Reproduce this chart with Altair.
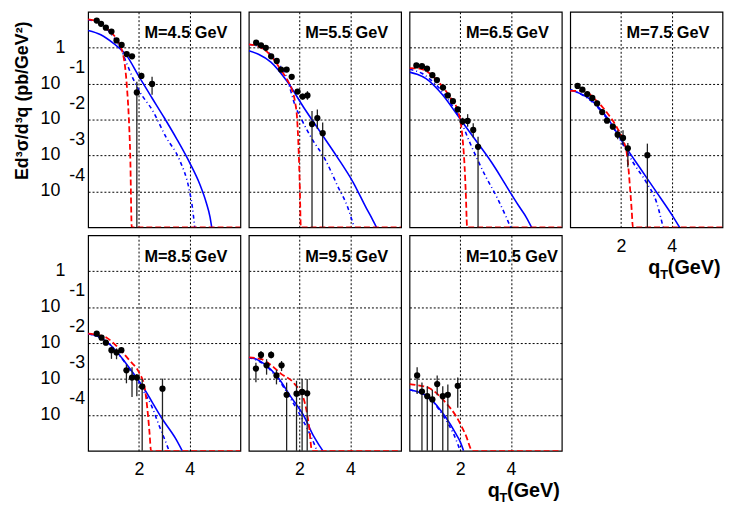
import altair as alt
import pandas as pd
import numpy as np

W, H = 154, 218
FONT = "Liberation Sans"

masses = ["4.5", "5.5", "6.5", "7.5", "8.5", "9.5", "10.5"]

# ---- data points (qT in GeV, log10 of Ed3sigma/d3q, error bar ends in log10) ----
q_pts = [
    [0.34, 0.51, 0.70, 0.92, 1.12, 1.32, 1.52, 1.73, 1.92, 2.10, 2.52],
    [0.29, 0.48, 0.67, 0.88, 1.10, 1.27, 1.49, 1.69, 1.92, 2.12, 2.31, 2.49, 2.70, 2.91],
    [0.27, 0.49, 0.69, 0.90, 1.08, 1.32, 1.51, 1.71, 1.90, 2.09, 2.29, 2.51, 2.70],
    [0.29, 0.48, 0.67, 0.87, 1.06, 1.26, 1.45, 1.68, 1.87, 2.08, 2.27, 3.04],
    [0.34, 0.53, 0.70, 0.92, 1.12, 1.31, 1.51, 1.73, 1.92, 2.13, 2.93],
    [0.28, 0.48, 0.70, 0.88, 1.09, 1.29, 1.49, 1.88, 2.10, 2.30],
    [0.30, 0.49, 0.70, 0.90, 1.09, 1.31, 1.51, 1.90],
]
logy_pts = [
    [0.755, 0.666, 0.557, 0.448, 0.203, 0.076, -0.177, -0.24, -1.247, -0.785, -1.01],
    [0.139, 0.067, -0.005, -0.24, -0.37, -0.61, -0.61, -0.81, -1.22, -1.36, -1.33, -2.125, -1.96, -2.38],
    [-0.495, -0.51, -0.585, -0.766, -0.90, -1.11, -1.33, -1.49, -1.72, -2.05, -2.04, -2.29, -2.76],
    [-1.065, -1.17, -1.29, -1.40, -1.55, -1.79, -2.03, -2.20, -2.42, -2.51, -2.80, -2.99],
    [-1.74, -1.85, -1.99, -2.20, -2.26, -2.20, -2.76, -2.96, -2.96, -3.21, -3.27],
    [-2.71, -2.33, -2.62, -2.33, -2.90, -2.62, -3.44, -3.41, -3.36, -3.40],
    [-2.90, -3.35, -3.48, -3.57, -3.14, -3.48, -3.44, -3.19],
]
logy_lo = [
    [0.72, 0.63, 0.52, 0.41, 0.16, 0.03, -0.23, -0.30, -5, -0.87, -1.31],
    [0.11, 0.04, -0.04, -0.28, -0.41, -0.66, -0.66, -0.87, -1.29, -1.44, -1.45, -5, -2.26, -5],
    [-0.53, -0.55, -0.62, -0.80, -0.94, -1.15, -1.38, -1.55, -1.80, -2.15, -2.20, -2.50, -5],
    [-1.10, -1.21, -1.33, -1.44, -1.60, -1.84, -2.09, -2.28, -2.55, -2.70, -3.33, -5],
    [-1.80, -1.91, -2.06, -2.44, -2.45, -2.28, -3.12, -3.50, -3.48, -5, -5],
    [-3.09, -2.45, -2.88, -2.43, -3.15, -2.78, -5, -5, -5, -5],
    [-3.42, -5, -5, -5, -3.45, -5, -5, -3.80],
]
logy_hi = [
    [0.79, 0.70, 0.59, 0.48, 0.24, 0.12, -0.13, -0.18, -0.95, -0.70, -0.81],
    [0.17, 0.10, 0.03, -0.20, -0.33, -0.56, -0.56, -0.75, -1.15, -1.28, -1.21, -1.76, -1.72, -2.08],
    [-0.46, -0.47, -0.55, -0.73, -0.86, -1.07, -1.28, -1.43, -1.64, -1.95, -1.85, -2.10, -2.48],
    [-1.03, -1.13, -1.25, -1.36, -1.50, -1.74, -1.97, -2.12, -2.30, -2.30, -2.65, -2.67],
    [-1.68, -1.79, -1.92, -2.10, -2.15, -2.12, -2.60, -2.67, -2.86, -3.00, -2.99],
    [-2.55, -2.22, -2.45, -2.23, -2.75, -2.50, -3.10, -3.05, -3.00, -3.00],
    [-2.67, -3.10, -3.20, -3.30, -2.90, -3.20, -3.15, -2.96],
]

# ---- theory curves (red dashed) ----
q_red = [
    [0, 0.3, 0.6, 0.9, 1.1, 1.25, 1.38, 1.46, 1.53, 1.6, 1.66, 1.72, 6],
    [0, 0.4, 0.8, 1.2, 1.5, 1.7, 1.82, 1.9, 1.96, 2.01, 2.05, 6],
    [0, 0.4, 0.8, 1.2, 1.6, 1.9, 2.02, 2.1, 2.17, 2.22, 2.27, 6],
    [0, 0.5, 1.0, 1.45, 1.84, 2.1, 2.23, 2.3, 2.36, 2.42, 2.47, 6],
    [0, 0.35, 0.73, 1.12, 1.64, 2.03, 2.22, 2.35, 2.42, 2.48, 6],
    [0, 0.5, 0.82, 1.26, 1.78, 2.17, 2.37, 2.49, 6],
    [0, 0.3, 0.79, 1.44, 1.83, 2.22, 2.48, 6],
]
logy_red = [
    [0.79, 0.74, 0.60, 0.43, 0.27, 0.08, -0.2, -0.55, -1.1, -1.9, -3.0, -5, -5],
    [0.095, 0.03, -0.17, -0.55, -0.88, -1.17, -1.5, -1.95, -2.8, -3.9, -5, -5],
    [-0.57, -0.58, -0.72, -1.0, -1.38, -1.75, -2.1, -2.6, -3.3, -4.1, -5, -5],
    [-1.2, -1.2, -1.45, -1.81, -2.22, -2.6, -2.94, -3.4, -3.94, -4.5, -5, -5],
    [-1.74, -1.77, -1.85, -2.08, -2.49, -2.85, -3.21, -3.94, -4.5, -5, -5],
    [-2.40, -2.45, -2.58, -2.85, -3.12, -3.57, -4.30, -5, -5],
    [-3.14, -3.17, -3.26, -3.67, -4.03, -4.57, -5, -5],
]
# ---- blue solid ----
q_blue = [
    [0, 0.5, 1.0, 1.5, 2.0, 2.5, 3.0, 3.5, 4.0, 4.4, 4.65, 4.8, 4.87],
    [0, 0.4, 0.87, 1.52, 2.17, 2.82, 3.47, 4.12, 4.64, 4.85, 5.03],
    [0, 0.3, 0.65, 1.30, 1.95, 2.60, 3.25, 3.6, 3.9, 4.3, 4.6, 4.81],
    [0, 0.81, 1.45, 2.10, 2.75, 3.40, 4.05, 4.31],
    [0, 0.4, 0.86, 1.51, 2.15, 2.93, 3.45, 3.71],
    [0, 0.3, 0.61, 1.13, 1.65, 2.17, 2.56, 2.75, 2.92],
    [0, 0.3, 0.79, 1.44, 1.83, 2.0, 2.13],
]
logy_blue = [
    [0.48, 0.36, 0.12, -0.2, -0.8, -1.38, -1.95, -2.55, -3.2, -3.8, -4.3, -4.7, -5],
    [-0.087, -0.19, -0.40, -0.95, -1.67, -2.35, -3.03, -3.76, -4.48, -4.75, -5],
    [-0.68, -0.74, -0.86, -1.31, -1.94, -2.57, -3.21, -3.6, -3.95, -4.4, -4.72, -5],
    [-1.17, -1.45, -1.94, -2.67, -3.35, -4.02, -4.7, -5],
    [-1.74, -1.82, -2.04, -2.58, -3.21, -4.12, -4.66, -5],
    [-2.40, -2.45, -2.58, -2.94, -3.49, -4.03, -4.6, -4.82, -5],
    [-3.30, -3.35, -3.53, -4.08, -4.53, -4.75, -5],
]
# ---- blue dash-dot ----
q_dd = [
    [0, 0.5, 1.0, 1.3, 1.5, 1.77, 2.03, 2.55, 3.07, 3.6, 3.98, 4.1, 4.2],
    [0, 0.5, 1.0, 1.5, 1.82, 2.08, 2.5, 3.0, 3.5, 3.9, 4.15],
    [0, 0.5, 1.0, 1.5, 2.0, 2.34, 2.99, 3.44, 3.8, 3.98],
    [0, 0.8, 1.45, 2.0, 2.49, 3.01, 3.40, 3.66],
    [0, 0.86, 1.51, 2.15, 2.5, 2.8, 3.0, 3.19],
    [0, 0.61, 1.13, 1.65, 2.17, 2.45, 2.69],
    [0, 0.79, 1.44, 1.75, 2.0],
]
logy_dd = [
    [0.78, 0.65, 0.30, -0.05, -0.4, -0.86, -1.22, -1.76, -2.49, -3.12, -3.94, -4.4, -5],
    [0.09, 0.0, -0.3, -0.85, -1.6, -2.0, -2.55, -3.1, -3.85, -4.45, -5],
    [-0.6, -0.72, -1.0, -1.42, -2.0, -2.58, -3.57, -4.16, -4.7, -5],
    [-1.17, -1.47, -1.98, -2.6, -3.21, -3.76, -4.30, -5],
    [-1.74, -2.04, -2.6, -3.3, -3.75, -4.3, -4.65, -5],
    [-2.40, -2.6, -2.98, -3.55, -4.2, -4.6, -5],
    [-3.30, -3.55, -4.15, -4.55, -5],
]

ytick_vals = [1, 0.1, 0.01, 0.001, 0.0001]
ytick_main = ["1", "10", "10", "10", "10"]
ytick_sup = ["", "-1", "-2", "-3", "-4"]
xtick_vals = [2, 4]

xscale = alt.Scale(domain=[0, 6], nice=False, zero=False)
yscale = alt.Scale(type="log", domain=[1e-5, 10], nice=False)


def xaxis(show):
    return alt.Axis(values=xtick_vals, grid=True, gridColor="black", gridDash=[2, 2],
                    gridWidth=1, gridOpacity=1, ticks=False, domain=False, labels=show,
                    labelFont=FONT, labelFontSize=18, labelColor="black", labelPadding=10,
                    title=None)


def yaxis():
    return alt.Axis(values=ytick_vals, grid=True, gridColor="black", gridDash=[2, 2],
                    gridWidth=1, gridOpacity=1, ticks=False, domain=False, labels=False,
                    title=None)


def curve(q, lg, color, dash, width):
    df = pd.DataFrame({"qT": q, "v": np.power(10.0, lg)})
    kw = dict(color=color, strokeWidth=width, interpolate="monotone", clip=True)
    if dash:
        kw["strokeDash"] = dash
    return alt.Chart(df).mark_line(**kw)


def panel(i, ylab, xlab, xtitle):
    xa = xaxis(xlab)
    ya = yaxis()
    enc = dict(x=alt.X("qT:Q", scale=xscale, axis=xa),
               y=alt.Y("v:Q", scale=yscale, axis=ya))
    blue = curve(q_blue[i], logy_blue[i], "#0000ff", None, 1.6).encode(**enc)
    dd = curve(q_dd[i], logy_dd[i], "#0000ff", [4, 3, 1, 3], 1.6).encode(**enc)
    red = curve(q_red[i], logy_red[i], "#ff0000", [6, 3], 1.8).encode(**enc)
    pdf = pd.DataFrame({"qT": q_pts[i], "v": np.power(10.0, logy_pts[i]),
                        "lo": np.power(10.0, logy_lo[i]), "hi": np.power(10.0, logy_hi[i])})
    err = alt.Chart(pdf).mark_rule(color="#222222", strokeWidth=1.3).encode(
        x=alt.X("qT:Q", scale=xscale, axis=xa),
        y=alt.Y("lo:Q", scale=yscale, axis=ya), y2="hi:Q")
    pts = alt.Chart(pdf).mark_circle(size=40, color="black", opacity=1).encode(**enc)
    lab = alt.Chart(pd.DataFrame({"t": ["M=" + masses[i] + " GeV"]})).mark_text(
        align="left", baseline="alphabetic", font=FONT, fontWeight="bold", fontSize=16.5,
        color="black").encode(x=alt.value(57), y=alt.value(27), text="t:N")
    layers = [blue, dd, red, err, pts, lab]
    if ylab:
        tdf = pd.DataFrame({"v": ytick_vals, "m": ytick_main, "s": ytick_sup})
        one = alt.Chart(tdf.iloc[:1]).mark_text(
            align="right", baseline="middle", font=FONT, fontSize=18, color="black"
        ).encode(x=alt.value(-23), y=alt.Y("v:Q", scale=yscale, axis=ya), text="m:N")
        tens = alt.Chart(tdf.iloc[1:]).mark_text(
            align="right", baseline="middle", font=FONT, fontSize=18, color="black"
        ).encode(x=alt.value(-28), y=alt.Y("v:Q", scale=yscale, axis=ya), text="m:N")
        sups = alt.Chart(tdf.iloc[1:]).mark_text(
            align="right", baseline="middle", font=FONT, fontSize=18, color="black", dy=-16
        ).encode(x=alt.value(-3), y=alt.Y("v:Q", scale=yscale, axis=ya), text="s:N")
        layers += [one, tens, sups]
    if i == 0:
        ttl = alt.Chart(pd.DataFrame({"t": ["Ed³σ/d³q (pb/GeV²)"]})).mark_text(
            align="center", baseline="middle", angle=270, font=FONT, fontWeight="bold",
            fontSize=18, color="black").encode(x=alt.value(-66), y=alt.value(90), text="t:N")
        layers.append(ttl)
    if xtitle:
        tq = alt.Chart(pd.DataFrame({"t": ["q"]})).mark_text(
            align="left", baseline="middle", font=FONT, fontWeight="bold", fontSize=20,
            color="black").encode(x=alt.value(W - 75), y=alt.value(H + 41), text="t:N")
        tT = alt.Chart(pd.DataFrame({"t": ["T"]})).mark_text(
            align="left", baseline="middle", font=FONT, fontWeight="bold", fontSize=13,
            color="black").encode(x=alt.value(W - 63), y=alt.value(H + 48), text="t:N")
        tg = alt.Chart(pd.DataFrame({"t": ["(GeV)"]})).mark_text(
            align="right", baseline="middle", font=FONT, fontWeight="bold", fontSize=20,
            color="black").encode(x=alt.value(W - 2), y=alt.value(H + 41), text="t:N")
        layers += [tq, tT, tg]
    return alt.layer(*layers).properties(width=W, height=H)


panels = [
    panel(0, True, False, False),
    panel(1, False, False, False),
    panel(2, False, False, False),
    panel(3, False, True, True),
    panel(4, True, True, False),
    panel(5, False, True, False),
    panel(6, False, True, True),
]

chart = alt.concat(*panels, columns=4, spacing={"row": 8, "column": 8.5}, bounds="flush").properties(
    padding={"left": 5, "top": 0, "right": 0, "bottom": 0}
).configure_view(stroke="black", strokeWidth=1.2)

chart.save("out.html", embed_options={"renderer": "svg", "actions": False})
